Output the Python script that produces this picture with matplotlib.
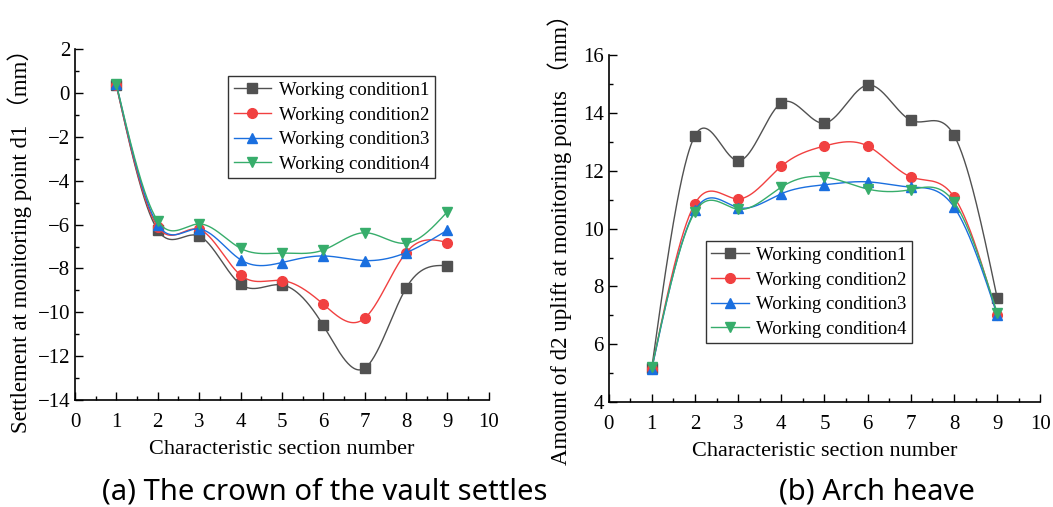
import numpy as np
import matplotlib
matplotlib.use("Agg")
import matplotlib.pyplot as plt
from matplotlib.ticker import MultipleLocator

# Section numbers
sections = [1, 2, 3, 4, 5, 6, 7, 8, 9]

# Crown settlement at monitoring point d1 (mm)
settle_c1 = [0.35, -6.25, -6.52, -8.72, -8.75, -10.6, -12.55, -8.9, -7.87]
settle_c2 = [0.35, -6.10, -6.22, -8.30, -8.55, -9.63, -10.27, -7.28, -6.82]
settle_c3 = [0.40, -6.00, -6.20, -7.60, -7.73, -7.43, -7.64, -7.28, -6.25]
settle_c4 = [0.40, -5.83, -5.97, -7.08, -7.30, -7.16, -6.37, -6.85, -5.41]

# Arch heave at monitoring point d2 (mm)
heave_c1 = [5.19, 13.22, 12.35, 14.35, 13.65, 14.97, 13.75, 13.23, 7.60]
heave_c2 = [5.15, 10.87, 11.03, 12.16, 12.86, 12.86, 11.79, 11.10, 7.00]
heave_c3 = [5.15, 10.63, 10.73, 11.21, 11.52, 11.62, 11.44, 10.75, 7.02]
heave_c4 = [5.20, 10.58, 10.67, 11.44, 11.79, 11.37, 11.35, 10.92, 7.08]

labels = ["Working condition1", "Working condition2",
          "Working condition3", "Working condition4"]
colors = ["#515151", "#F14040", "#1A6FDF", "#37AD6B"]
markers = ["s", "o", "^", "v"]

SERIF = ["Liberation Serif", "Noto Sans CJK SC"]
plt.rcParams["font.family"] = SERIF


def natural_spline(x, y, n=400):
    x = np.asarray(x, float)
    y = np.asarray(y, float)
    m = len(x)
    h = np.diff(x)
    A = np.zeros((m, m))
    b = np.zeros(m)
    A[0, 0] = A[-1, -1] = 1.0
    for i in range(1, m - 1):
        A[i, i - 1] = h[i - 1]
        A[i, i] = 2 * (h[i - 1] + h[i])
        A[i, i + 1] = h[i]
        b[i] = 3 * ((y[i + 1] - y[i]) / h[i] - (y[i] - y[i - 1]) / h[i - 1])
    c = np.linalg.solve(A, b)
    xs = np.linspace(x[0], x[-1], n)
    idx = np.clip(np.searchsorted(x, xs, side="right") - 1, 0, m - 2)
    dx = xs - x[idx]
    bb = (y[idx + 1] - y[idx]) / h[idx] - h[idx] * (2 * c[idx] + c[idx + 1]) / 3
    dd = (c[idx + 1] - c[idx]) / (3 * h[idx])
    ys = y[idx] + bb * dx + c[idx] * dx ** 2 + dd * dx ** 3
    return xs, ys


def draw(ax, series):
    for vals, lab, col, mk in zip(series, labels, colors, markers):
        xs, ys = natural_spline(sections, vals)
        ax.plot(xs, ys, color=col, lw=1.0)
        ax.plot(sections, vals, ls="none", marker=mk, ms=7, color=col)
        ax.plot([], [], color=col, lw=1.0, marker=mk, ms=7, label=lab)


def style(ax):
    ax.spines["top"].set_visible(False)
    ax.spines["right"].set_visible(False)
    for s in ("left", "bottom"):
        ax.spines[s].set_linewidth(1.2)
    ax.set_xlim(0, 10)
    ax.xaxis.set_major_locator(MultipleLocator(1))
    ax.xaxis.set_minor_locator(MultipleLocator(0.5))
    ax.tick_params(which="both", direction="in", labelsize=15, width=1.0)
    ax.tick_params(which="major", length=6)
    ax.tick_params(which="minor", length=3)
    ax.tick_params(axis="x", pad=9)
    ax.set_xlabel("Characteristic section number", fontsize=16, labelpad=6)


def add_legend(ax, anchor):
    leg = ax.legend(loc="upper left", bbox_to_anchor=anchor, fontsize=13.5,
                    frameon=True, fancybox=False, edgecolor="black",
                    handlelength=2.0, borderpad=0.3, labelspacing=0.4,
                    handletextpad=0.4, borderaxespad=0.0)
    leg.get_frame().set_linewidth(1.0)
    return leg


fig = plt.figure(figsize=(10.53, 5.07), dpi=100)

ax1 = fig.add_axes([0.0712, 0.211, 0.393, 0.692])
draw(ax1, [settle_c1, settle_c2, settle_c3, settle_c4])
style(ax1)
ax1.set_ylim(-14, 2)
ax1.yaxis.set_major_locator(MultipleLocator(2))
ax1.yaxis.set_minor_locator(MultipleLocator(1))
ax1.set_ylabel("Settlement at monitoring point d1 （mm）", fontsize=16.5)
ax1.yaxis.set_label_coords(-0.105, 0.47)
add_legend(ax1, (0.37, 0.923))

ax2 = fig.add_axes([0.578, 0.207, 0.410, 0.684])
draw(ax2, [heave_c1, heave_c2, heave_c3, heave_c4])
style(ax2)
ax2.set_ylim(4, 16)
ax2.yaxis.set_major_locator(MultipleLocator(2))
ax2.yaxis.set_minor_locator(MultipleLocator(1))
ax2.set_ylabel("Amount of d2 uplift at monitoring points （mm）", fontsize=16.5)
ax2.yaxis.set_label_coords(-0.085, 0.485)
add_legend(ax2, (0.2245, 0.464))

fig.text(0.308, 0.014, "(a) The crown of the vault settles", fontsize=21,
         family=["Noto Sans", "DejaVu Sans"], ha="center", va="baseline")
fig.text(0.833, 0.014, "(b) Arch heave", fontsize=21,
         family=["Noto Sans", "DejaVu Sans"], ha="center", va="baseline")

fig.savefig("out.png", dpi=100)
